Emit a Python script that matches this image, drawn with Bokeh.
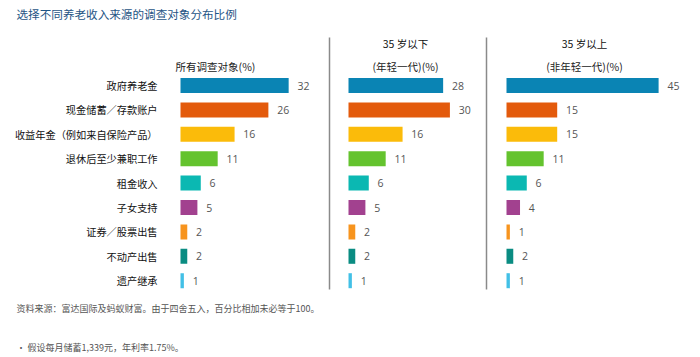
from bokeh.plotting import figure
from bokeh.models import Range1d, ColumnDataSource
from bokeh.core.properties import value
from bokeh.embed import file_html
from bokeh.resources import INLINE

# ---------------- data ----------------
title_text = "选择不同养老收入来源的调查对象分布比例"
categories = ["政府养老金", "现金储蓄／存款账户", "收益年金（例如来自保险产品）",
              "退休后至少兼职工作", "租金收入", "子女支持", "证券／股票出售",
              "不动产出售", "遗产继承"]
all_resp = [32, 26, 16, 11, 6, 5, 2, 2, 1]
under35 = [28, 30, 16, 11, 6, 5, 2, 2, 1]
over35 = [45, 15, 15, 11, 6, 4, 1, 2, 1]
colors = ["#0a84b4", "#e35a0c", "#fbbb0a", "#64c32e", "#0bb8b2",
          "#a2418f", "#f7941e", "#0a8c82", "#42c0e6"]
header_line1 = ["", "35 岁以下", "35 岁以上"]
header_line2 = ["所有调查对象(%)", "(年轻一代)(%)", "(非年轻一代)(%)"]
source_text = "资料来源：富达国际及蚂蚁财富。由于四舍五入，百分比相加未必等于100。"
footnote_text = "• 假设每月储蓄1,339元，年利率1.75%。"

# ---------------- layout constants ----------------
W, H = 700, 357
PX = 3.38          # pixels per percentage unit
X0 = 180           # pixel position of zero for first panel
ROW = 24.4         # pixels per row
Y0 = 85            # pixel position of first row centre
panel_offsets = [0, (348 - X0) / PX, (506 - X0) / PX]
header_centers = [(215 - X0) / PX, (405 - X0) / PX, (584 - X0) / PX]
sep_x = [(329 - X0) / PX, (486 - X0) / PX]
FONT = "Noto Sans CJK SC"

def ypx(py):
    return (py - Y0) / ROW

def xpx(px):
    return (px - X0) / PX

p = figure(width=W, height=H, output_backend="svg", toolbar_location=None,
           x_range=Range1d(-X0 / PX, (W - X0) / PX),
           y_range=Range1d((H - Y0) / ROW, -Y0 / ROW),
           min_border=0, min_border_left=0, min_border_right=0,
           min_border_top=0, min_border_bottom=0)
p.axis.visible = False
p.grid.visible = False
p.outline_line_color = None
p.background_fill_color = "white"
p.border_fill_color = "white"

rows = list(range(len(categories)))
for vals, off in zip([all_resp, under35, over35], panel_offsets):
    src = ColumnDataSource(dict(y=rows, left=[off] * len(vals),
                                right=[off + v for v in vals],
                                color=colors,
                                tx=[off + v + 2.6 for v in vals],
                                lab=[str(v) for v in vals]))
    p.hbar(y="y", left="left", right="right", height=15 / ROW, color="color",
           line_color=None, source=src)
    p.text(x="tx", y="y", text="lab", source=src, text_font=value("Open Sans"),
           text_font_size="10.5px", text_color="#555555",
           text_baseline="middle", text_align="left")

# category labels
p.text(x=[xpx(157)] * len(categories), y=rows, text=categories,
       text_font=value(FONT), text_font_size="10.2px", text_color="#111111",
       text_align="right", text_baseline="middle")

# headers
p.text(x=header_centers, y=[ypx(43)] * 3, text=header_line1,
       text_font=value(FONT), text_font_size="10.5px", text_color="#111111",
       text_align="center", text_baseline="middle")
p.text(x=header_centers, y=[ypx(66)] * 3, text=header_line2,
       text_font=value(FONT), text_font_size="10.5px", text_color="#222222",
       text_align="center", text_baseline="middle")

# separators
for sx in sep_x:
    p.segment(x0=[sx], y0=[ypx(37)], x1=[sx], y1=[ypx(289)],
              line_color="#8a8a8a", line_width=1.5)

# title
p.text(x=[xpx(16)], y=[ypx(13)], text=[title_text], text_font=value(FONT),
       text_font_size="11.6px", text_color="#1f5585", text_align="left",
       text_baseline="middle")

# source & footnote
p.text(x=[xpx(16)], y=[ypx(308)], text=[source_text], text_font=value(FONT),
       text_font_size="9px", text_color="#555555", text_align="left",
       text_baseline="middle")
p.text(x=[xpx(16)], y=[ypx(347)], text=[footnote_text], text_font=value(FONT),
       text_font_size="9px", text_color="#555555", text_align="left",
       text_baseline="middle")

open("out.html", "w").write(file_html(p, INLINE))
